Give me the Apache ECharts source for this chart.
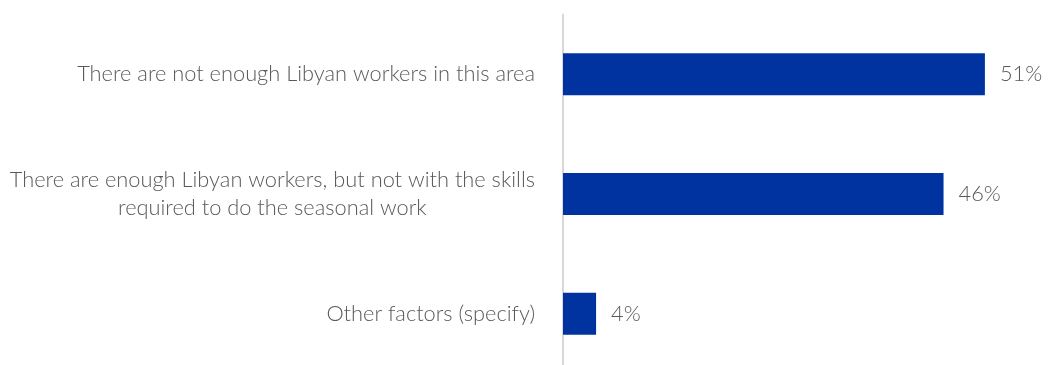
<!DOCTYPE html>
<html>
<head>
<meta charset="utf-8">
<script src="https://cdn.jsdelivr.net/npm/echarts@6/dist/echarts.min.js"></script>
<style>
  html, body { margin: 0; padding: 0; background: #ffffff; }
  #chart { width: 1048px; height: 365px; }
</style>
</head>
<body>
<div id="chart"></div>
<script>
// Reasons given for hiring non-Libyan seasonal workers (share of responses, %)
const categories = [
  'There are not enough Libyan workers in this area',
  'There are enough Libyan workers, but not with the skills\nrequired to do the seasonal work',
  'Other factors (specify)'
];
const shares = [51, 46, 4];

const textColor = '#595959';
const fontFamily = 'Lato, "Open Sans", sans-serif';

const chart = echarts.init(document.getElementById('chart'), null, { renderer: 'canvas' });

chart.setOption({
  animation: false,
  backgroundColor: '#ffffff',
  // plot area runs a little past the bottom edge, so the last band is cut off
  grid: {
    left: 563, top: 14.5, right: 30, bottom: -8.5,
    containLabel: false,
    outerBoundsMode: 'none'
  },
  xAxis: {
    type: 'value',
    min: 0,
    max: 55,
    show: false
  },
  yAxis: {
    type: 'category',
    data: categories,
    inverse: true,
    axisLine: { show: true, lineStyle: { color: '#d9d9d9', width: 2 } },
    axisTick: { show: false },
    axisLabel: {
      margin: 28,
      align: 'right',
      color: textColor,
      fontFamily: fontFamily,
      fontWeight: 300,
      fontSize: 21.8,
      lineHeight: 28,
      // each line centred inside the label block
      formatter: function (value) {
        return value.split('\n').map(function (line) { return '{c|' + line + '}'; }).join('\n');
      },
      rich: {
        c: {
          align: 'center',
          color: textColor,
          fontFamily: fontFamily,
          fontWeight: 300,
          fontSize: 21.8,
          lineHeight: 28
        }
      }
    }
  },
  series: [{
    type: 'bar',
    data: shares,
    barWidth: 42,
    itemStyle: { color: '#0033A0' },
    label: {
      show: true,
      position: 'right',
      distance: 15,
      formatter: '{c}%',
      color: textColor,
      fontFamily: fontFamily,
      fontWeight: 300,
      fontSize: 21.8
    }
  }]
});
</script>
</body>
</html>
